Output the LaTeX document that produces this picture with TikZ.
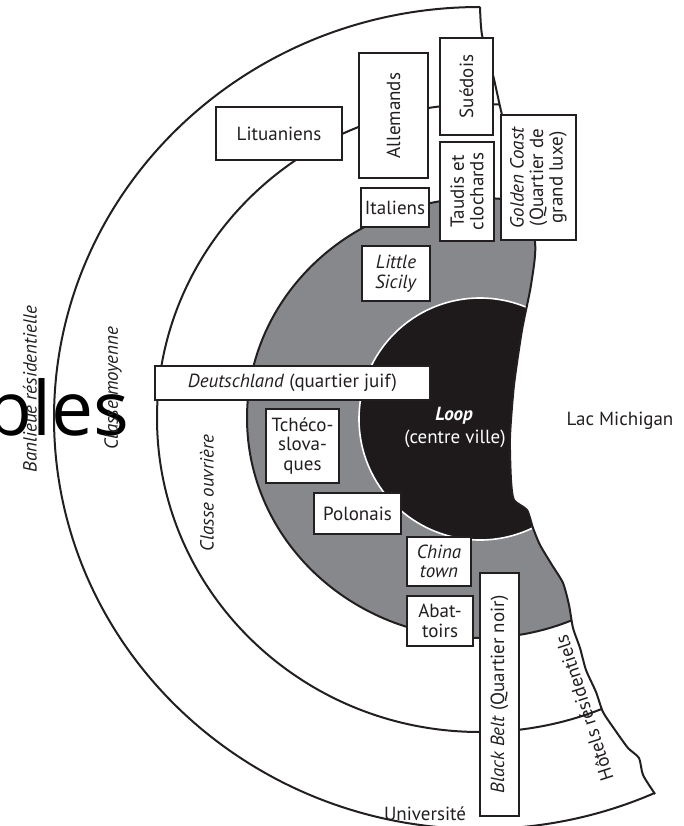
\documentclass[tikz,border=0pt]{standalone}
\usepackage{fontspec}
\setmainfont{PT Sans}
\newfontfamily\strayfont{Open Sans}
\definecolor{greyzone}{RGB}{135,136,139}
\definecolor{loopblack}{RGB}{30,26,27}
\definecolor{ink}{RGB}{35,31,32}
\begin{document}
\begin{tikzpicture}[x=1pt,y=-1pt,
  every node/.style={text=ink, font=\fontsize{19}{19.5}\selectfont},
  zonebox/.style={draw=ink, line width=2.4pt, fill=white, inner sep=0pt, align=center},
  arcline/.style={draw=ink, line width=2pt},
  coastline/.style={draw=ink, line width=2pt, line join=round},
  zonelabel/.style={font=\fontsize{19}{19.5}\selectfont\itshape}]
\useasboundingbox (0,0) rectangle (684,826);

% stray large text
\node[anchor=base west, inner sep=0pt, text=black, font=\strayfont\fontsize{75}{75}\selectfont] (stray) at (-14,435) {bles};

% land (left of the lake shore)
\begin{scope}
\clip (-20,-20) -- (480,-20) -- plot[smooth, tension=0.4] coordinates {(480,7) (482,35) (493,75) (502,115) (518,178) (535,242) (531,285) (522,330) (514,385) (510,437) (511,480) (514,500) (527,510) (533,528) (540,545) (552,565) (563,583) (569,605) (573,628) (580,648) (586,670) (596,692) (603,712) (615,730) (628,748) (639,758) (643,775) (655,794)} -- (655,900) -- (-20,900) -- cycle;
\fill[greyzone] (480,418) ellipse [x radius=233pt, y radius=220pt];
\fill[loopblack] (480,419) circle [radius=121pt];
\draw[white, line width=1.6pt] (480,419) circle [radius=121pt];
\draw[arcline] (480,418) ellipse [x radius=233pt, y radius=220pt];
\draw[arcline] (480,418) ellipse [x radius=323pt, y radius=314pt];
\draw[arcline] (480,418) ellipse [x radius=426pt, y radius=411pt];
\end{scope}
\draw[coastline] plot[smooth, tension=0.4] coordinates {(480,7) (482,35) (493,75) (502,115) (518,178) (535,242) (531,285) (522,330) (514,385) (510,437) (511,480) (514,500) (527,510) (533,528) (540,545) (552,565) (563,583) (569,605) (573,628) (580,648) (586,670) (596,692) (603,712) (615,730) (628,748) (639,758) (643,775) (655,794)};

% boxes
\node[zonebox, minimum width=126pt, minimum height=53pt] (lit) at (279,133.5) {Lituaniens};
\node[zonebox, rotate=90, minimum width=125pt, minimum height=69pt] (all) at (393.5,115.5) {Allemands};
\node[zonebox, rotate=90, minimum width=97pt, minimum height=53pt] (sue) at (466.5,86.5) {Suédois};
\node[zonebox, minimum width=68pt, minimum height=39pt] (ita) at (395,207.5) {Italiens};
\node[zonebox, rotate=90, minimum width=99pt, minimum height=54pt] (tau) at (467,191.5) {Taudis et\\clochards};
\node[zonebox, rotate=90, minimum width=125pt, minimum height=75pt] (gold) at (538.5,177.5) {\textit{Golden Coast}\\(Quartier de\\grand luxe)};
\node[zonebox, minimum width=68pt, minimum height=55pt] (sic) at (396,273.5) {\textit{Little}\\\textit{Sicily}};
\node[zonebox, minimum width=275pt, minimum height=34pt] (deu) at (292.5,383) {\textit{Deutschland} (quartier juif)};
\node[zonebox, minimum width=73pt, minimum height=74pt] (tch) at (302.5,446) {Tchéco-\\slova-\\ques};
\node[zonebox, minimum width=87pt, minimum height=41pt] (pol) at (357.5,513.5) {Polonais};
\node[zonebox, minimum width=64pt, minimum height=49pt] (chi) at (439,561.5) {\textit{China}\\\textit{town}};
\node[zonebox, minimum width=66pt, minimum height=50pt] (aba) at (440,621) {Abat-\\toirs};
\node[zonebox, rotate=90, minimum width=243pt, minimum height=39pt] (bb) at (499.5,694.5) {\textit{Black Belt} (Quartier noir)};

% zone labels
\node[zonelabel, rotate=90] (ban) at (30,389) {Banlieue résidentielle};
\node[zonelabel, rotate=90] (moy) at (113,388) {Classe moyenne};
\node[zonelabel, rotate=90] (ouv) at (207,493) {Classe ouvrière};
\node[anchor=base, text=white, font=\fontsize{19}{19.5}\selectfont\bfseries\itshape] (loop) at (454,420) {Loop};
\node[anchor=base, text=white] (centre) at (455,443) {(centre ville)};
\node[anchor=base] (lac) at (620,425) {Lac Michigan};
\node[rotate=108] (hot) at (584,708) {Hôtels résidentiels};
\node[anchor=base] (univ) at (425,820) {Université};
\end{tikzpicture}
\end{document}
